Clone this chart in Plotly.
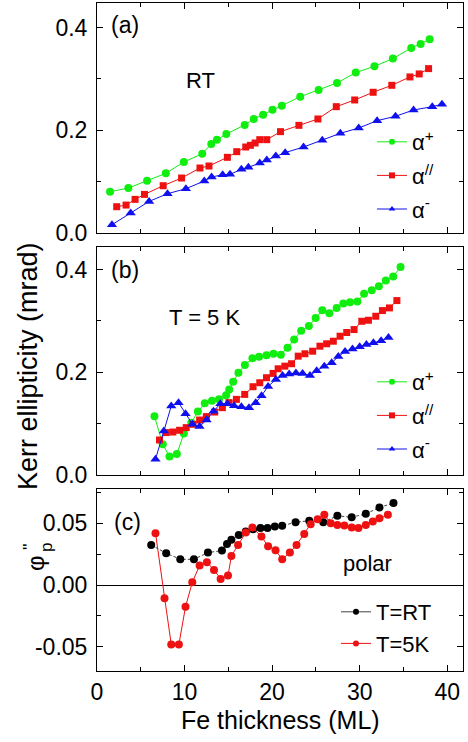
import plotly.graph_objects as go

# ---------------- data ----------------
# Panel (a) RT
a_plus_x = [1.49, 3.58, 5.72, 7.86, 9.92, 12.02, 13.05, 13.70, 14.77, 16.87, 17.90, 18.97, 20.04, 21.11,
            23.21, 25.31, 27.41, 29.55, 31.69, 33.79, 35.89, 36.96, 37.99]
a_plus_y = [0.0804, 0.0876, 0.1019, 0.1162, 0.1383, 0.1545, 0.1734, 0.1818, 0.1929, 0.2104, 0.2221, 0.2305,
            0.2403, 0.2481, 0.2656, 0.2786, 0.2923, 0.3124, 0.3248, 0.3397, 0.3605, 0.3683, 0.3774]
a_par_x = [2.25, 3.32, 4.35, 5.42, 7.56, 9.66, 11.76, 12.79, 14.89, 15.96, 16.99, 17.52, 18.06, 18.59, 19.39,
           20.96, 23.06, 25.23, 27.33, 29.43, 31.54, 33.67, 35.74, 36.80, 37.87]
a_par_y = [0.0512, 0.0544, 0.0655, 0.0752, 0.0921, 0.1071, 0.1266, 0.1305, 0.1474, 0.1584, 0.1675, 0.1708,
           0.1753, 0.1818, 0.1818, 0.1974, 0.2097, 0.2221, 0.2461, 0.2591, 0.2741, 0.2877, 0.3040, 0.3098, 0.3202]
a_min_x = [1.71, 3.85, 5.95, 8.05, 10.15, 12.25, 13.09, 14.35, 15.19, 16.49, 17.29, 18.59, 19.39, 20.42,
           21.49, 23.59, 25.73, 27.79, 29.89, 31.99, 34.09, 36.15, 38.29, 39.40]
a_min_y = [0.0161, 0.0389, 0.0616, 0.0765, 0.0863, 0.1012, 0.1090, 0.1136, 0.1142, 0.1240, 0.1279, 0.1363,
           0.1422, 0.1500, 0.1565, 0.1675, 0.1805, 0.1942, 0.2045, 0.2188, 0.2273, 0.2396, 0.2461, 0.2507]

# Panel (b) T = 5 K
b_plus_x = [6.56, 7.51, 8.28, 9.12, 9.92, 10.77, 11.52, 12.31, 13.13, 13.93, 14.75, 15.10, 15.55, 16.15,
            16.89, 17.75, 18.51, 19.36, 20.16, 21.0, 21.76, 22.52, 23.32, 24.2, 24.97, 25.73, 26.53, 27.37,
            28.13, 28.9, 29.74, 30.5, 31.38, 32.19, 32.99, 33.83, 34.67]
b_plus_y = [0.114, 0.059, 0.035, 0.040, 0.080, 0.101, 0.123, 0.139, 0.144, 0.147, 0.155, 0.166, 0.181,
            0.199, 0.214, 0.227, 0.230, 0.233, 0.236, 0.234, 0.2475, 0.264, 0.281, 0.290, 0.306, 0.321,
            0.315, 0.3255, 0.334, 0.3365, 0.338, 0.353, 0.360, 0.3677, 0.379, 0.387, 0.4055]
b_par_x = [7.14, 7.90, 8.66, 9.43, 10.19, 10.95, 11.72, 12.49, 13.44, 14.32, 15.07, 15.92, 16.87, 17.82,
           18.59, 19.36, 20.11, 20.69, 21.45, 22.22, 22.98, 23.75, 24.63, 25.46, 26.23, 26.99, 27.76, 28.52,
           29.36, 30.24, 31.0, 31.84, 32.6, 33.4, 34.25]
b_par_y = [0.0674, 0.0819, 0.0830, 0.0864, 0.0916, 0.0981, 0.1064, 0.1131, 0.1220, 0.1306, 0.1404, 0.1468,
           0.1565, 0.1715, 0.1793, 0.1891, 0.1975, 0.2066, 0.2117, 0.2164, 0.2312, 0.2359, 0.2409, 0.2507,
           0.2554, 0.2604, 0.2702, 0.2774, 0.2832, 0.2994, 0.3014, 0.3092, 0.3203, 0.3255, 0.3398]
b_min_x = [6.68, 7.63, 8.48, 9.31, 10.11, 10.91, 11.71, 12.51, 13.31, 14.09, 14.89, 15.65, 16.49, 17.36,
           18.13, 18.79, 19.54, 20.43, 21.19, 21.95, 22.72, 23.48, 24.32, 25.09, 25.96, 26.80, 27.56, 28.33,
           29.18, 30.0, 30.77, 31.57, 32.45, 33.29]
b_min_y = [0.0298, 0.0850, 0.1337, 0.1404, 0.1189, 0.0981, 0.0936, 0.1064, 0.1234, 0.1384, 0.1384, 0.1341,
           0.1325, 0.1306, 0.1404, 0.1540, 0.1721, 0.1858, 0.1936, 0.1965, 0.1981, 0.1975, 0.1936, 0.2027,
           0.2117, 0.2183, 0.2304, 0.2402, 0.2452, 0.2497, 0.2540, 0.2573, 0.2612, 0.2678]

# Panel (c) polar
c_rt_x = [6.19, 7.90, 9.51, 11.07, 12.67, 14.27, 14.85, 15.35, 16.19, 16.99, 17.82, 18.67, 19.47, 20.31,
          21.15, 22.68, 24.24, 25.84, 27.45, 29.09, 30.7, 32.26, 33.86]
c_rt_y = [0.0324, 0.0257, 0.0208, 0.0208, 0.0262, 0.0278, 0.0332, 0.0365, 0.0405, 0.0432, 0.0451, 0.0460,
          0.0460, 0.0473, 0.0478, 0.0508, 0.0519, 0.0508, 0.0559, 0.0548, 0.0575, 0.0627, 0.0662]
c_5k_x = [6.68, 7.71, 8.48, 9.35, 10.11, 10.88, 11.72, 12.55, 13.36, 14.12, 14.96, 15.35, 16.11, 16.99,
          17.75, 18.78, 19.54, 20.39, 21.15, 22.03, 22.79, 23.67, 24.4, 25.2, 25.96, 26.69, 27.45, 28.25,
          29.09, 29.86, 30.7, 31.5, 32.26, 33.22]
c_5k_y = [0.0419, -0.0108, -0.0481, -0.0481, -0.0176, 0.0022, 0.0157, 0.0184, 0.0122, 0.0049, 0.0076,
          0.0235, 0.0324, 0.0424, 0.0464, 0.0392, 0.0313, 0.0280, 0.0208, 0.0262, 0.0324, 0.0413, 0.0492,
          0.0532, 0.0567, 0.0500, 0.0486, 0.0480, 0.0464, 0.0460, 0.0486, 0.0513, 0.0540, 0.0567]

x_tickvals = [0, 10, 20, 30, 40]
x_ticktext = ["0", "10", "20", "30", "40"]
k_tickvals = [0.0, 0.2, 0.4]
k_ticktext = ["0.0", "0.2", "0.4"]
p_tickvals = [-0.05, 0.0, 0.05]
p_ticktext = ["-0.05", "0.00", "0.05"]

names_abc = ["α<sup>+</sup>", "α<sup>//</sup>", "α<sup>-</sup>"]
names_c = ["T=RT", "T=5K"]

GREEN = "#10ee10"
RED = "#ee1111"
BLUE = "#1010ee"
FONT = "Liberation Sans, Arial, sans-serif"

fig = go.Figure()

def add(x, y, color, symbol, size, xa, ya, dash=None, lcolor=None):
    fig.add_trace(go.Scatter(
        x=x, y=y, mode="lines+markers", xaxis=xa, yaxis=ya, showlegend=False,
        line=dict(color=lcolor or color, width=1, dash=dash),
        marker=dict(color=color, symbol=symbol, size=size, line=dict(width=0)),
        cliponaxis=False))

def leg(name, color, symbol, legend, group, lcolor=None):
    fig.add_trace(go.Scatter(
        x=[None], y=[None], mode="lines+markers", name=name, legend=legend, legendgroup=group,
        line=dict(color=lcolor or color, width=1),
        marker=dict(color=color, symbol=symbol, size=6, line=dict(width=0)),
        xaxis="x", yaxis="y"))

# panel (a)
add(a_plus_x, a_plus_y, GREEN, "circle", 8, "x", "y")
add(a_par_x, a_par_y, RED, "square", 7, "x", "y")
add(a_min_x, a_min_y, BLUE, "triangle-up", 9, "x", "y")
# panel (b)
add(b_plus_x, b_plus_y, GREEN, "circle", 8, "x2", "y2")
add(b_par_x, b_par_y, RED, "square", 7, "x2", "y2")
add(b_min_x, b_min_y, BLUE, "triangle-up", 9, "x2", "y2")
# panel (c)
add(c_rt_x, c_rt_y, "black", "circle", 8, "x3", "y3", dash="3px,2px", lcolor="#444444")
add(c_5k_x, c_5k_y, RED, "circle", 8, "x3", "y3")

# legend entries
for i, (c, s) in enumerate([(GREEN, "circle"), (RED, "square"), (BLUE, "triangle-up")]):
    leg(names_abc[i], c, s, "legend", "a%d" % i)
    leg(names_abc[i], c, s, "legend2", "b%d" % i)
leg(names_c[0], "black", "circle", "legend3", "c0", lcolor="#444444")
leg(names_c[1], RED, "circle", "legend3", "c1")

W, H = 468, 742
ML, MR, MT, MB = 97, 5, 3, 71
PH = H - MT - MB

def py(Y):
    return (H - MB - Y) / PH

TICKF = dict(family=FONT, size=23, color="black")
XR = [0, 41.8]
common_x = dict(range=XR, showline=True, linecolor="black", linewidth=1, mirror="ticks",
                ticks="inside", ticklen=6, tickcolor="black", tickvals=x_tickvals,
                ticktext=x_ticktext, showgrid=False, zeroline=False,
                minor=dict(dtick=5, tick0=0, ticks="inside", ticklen=4, tickcolor="black", showgrid=False),
                tickfont=TICKF)
common_y = dict(showline=True, linecolor="black", linewidth=1, mirror="ticks",
                ticks="inside", ticklen=6, tickcolor="black", showgrid=False,
                tickfont=TICKF, ticklabelstandoff=4)

fig.update_layout(
    width=W, height=H, margin=dict(l=ML, r=MR, t=MT, b=MB),
    paper_bgcolor="white", plot_bgcolor="white",
    font=dict(family=FONT, size=22, color="black"),
    xaxis=dict(domain=[0, 1], anchor="y", showticklabels=False, **common_x),
    xaxis2=dict(domain=[0, 1], anchor="y2", showticklabels=False, **common_x),
    xaxis3=dict(domain=[0, 1], anchor="y3", showticklabels=True, **common_x),
    yaxis=dict(domain=[py(233), 1], anchor="x", range=[0, 0.448], tickvals=k_tickvals,
               ticktext=k_ticktext, zeroline=False,
               minor=dict(dtick=0.1, tick0=0, ticks="inside", ticklen=4, tickcolor="black", showgrid=False),
               **common_y),
    yaxis2=dict(domain=[py(474.5), py(247)], anchor="x2", range=[0, 0.4445], tickvals=k_tickvals,
                ticktext=k_ticktext, zeroline=False,
                minor=dict(dtick=0.1, tick0=0, ticks="inside", ticklen=4, tickcolor="black", showgrid=False),
                **common_y),
    yaxis3=dict(domain=[0, py(489)], anchor="x3", range=[-0.0695, 0.0776], tickvals=p_tickvals,
                ticktext=p_ticktext, zeroline=True, zerolinecolor="black", zerolinewidth=1,
                minor=dict(dtick=0.025, tick0=0, ticks="inside", ticklen=4, tickcolor="black", showgrid=False),
                **common_y),
    legend=dict(x=(372 - ML) / 366, y=py(121), xanchor="left", yanchor="top",
                traceorder="grouped", tracegroupgap=2, bgcolor="rgba(0,0,0,0)",
                font=dict(family=FONT, size=22), itemwidth=30),
    legend2=dict(x=(372 - ML) / 366, y=py(361), xanchor="left", yanchor="top",
                 traceorder="grouped", tracegroupgap=2, bgcolor="rgba(0,0,0,0)",
                 font=dict(family=FONT, size=22), itemwidth=30),
    legend3=dict(x=(336 - ML) / 366, y=py(591), xanchor="left", yanchor="top",
                 traceorder="grouped", tracegroupgap=0, bgcolor="rgba(0,0,0,0)",
                 font=dict(family=FONT, size=22), itemwidth=30),
)

def ann(text, x, y, xref, yref, size=22, **kw):
    fig.add_annotation(text=text, x=x, y=y, xref=xref, yref=yref, showarrow=False,
                       xanchor="center", yanchor="middle",
                       font=dict(family=FONT, size=size, color="black"), **kw)

ann("(a)", 0.0765, 0.904, "x domain", "y domain", 23)
ann("RT", 0.284, 0.665, "x domain", "y domain", 22)
ann("(b)", 0.0765, 0.899, "x2 domain", "y2 domain", 23)
ann("T = 5 K", 0.295, 0.688, "x2 domain", "y2 domain", 22)
ann("(c)", 0.082, 0.819, "x3 domain", "y3 domain", 23)
ann("polar", 0.740, 0.593, "x3 domain", "y3 domain", 22)
ann("Kerr ellipticity (mrad)", (28 - ML) / 366, py(366), "paper", "paper", 27, textangle=-90)
# φ''_p drawn as stacked pieces (rotated)
ann("φ", (35 - ML) / 366, py(563), "paper", "paper", 24, textangle=-90)
ann("p", (46 - ML) / 366, py(548), "paper", "paper", 17, textangle=-90)
ann("''", (29 - ML) / 366, py(547), "paper", "paper", 17, textangle=-90)
ann("Fe thickness (ML)", 0.5, py(720), "paper", "paper", 25)

fig.write_html("out.html", config={"displayModeBar": False},
               post_script="document.body.style.margin='0px';document.body.style.padding='0px';")
